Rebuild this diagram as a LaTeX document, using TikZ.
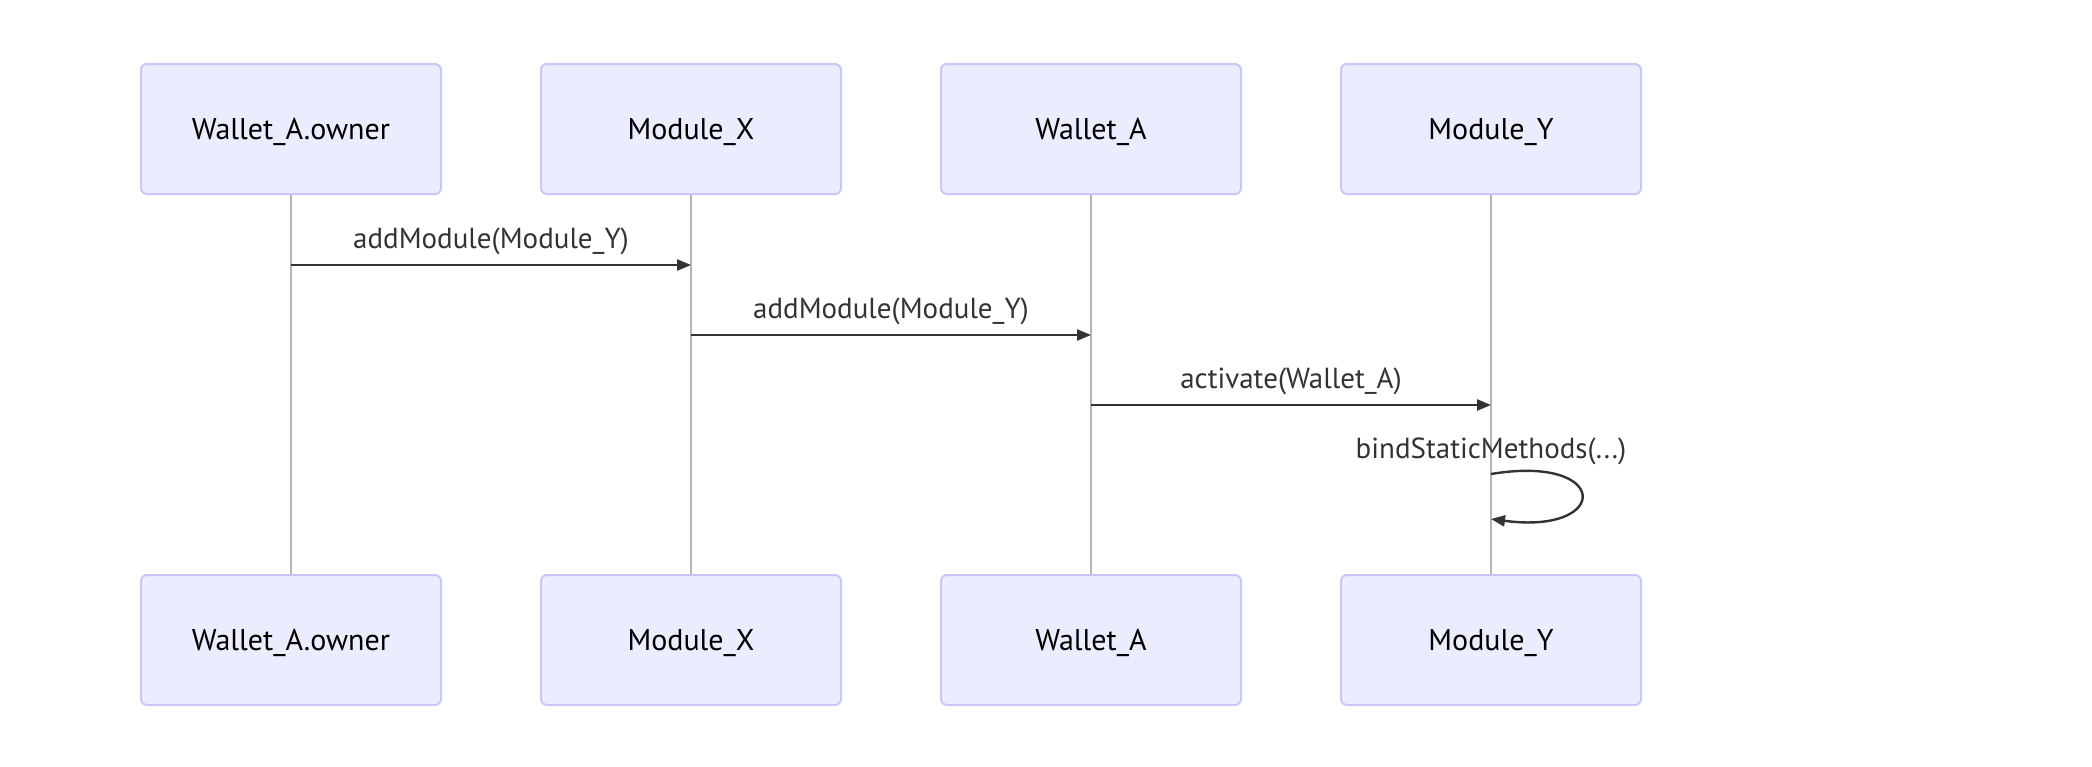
\documentclass[tikz,border=0pt]{standalone}
\usepackage{fontspec}
\setmainfont{PT Sans}
\usetikzlibrary{positioning, arrows.meta, calc}
\definecolor{actorfill}{HTML}{ECECFF}
\definecolor{actorline}{HTML}{C8C8F8}
\definecolor{lifegray}{HTML}{B5B5B5}
\definecolor{msgcol}{HTML}{333333}

\begin{document}
\begin{tikzpicture}[
        node distance=49pt and 49pt,
        >={Triangle[length=7pt, width=5.5pt]},
        % Styles
        actor/.style={rectangle, draw=actorline, fill=actorfill, line width=1pt,
                rounded corners=3pt, minimum width=150pt, minimum height=65pt,
                text depth=0pt, font=\fontsize{15}{18}\selectfont, text=black},
        life/.style={draw=lifegray, line width=0.7pt},
        msg/.style={->, draw=msgcol, line width=1.2pt},
        msglab/.style={font=\fontsize{14.5}{17}\selectfont, text=msgcol, inner sep=2pt},
    ]
        \useasboundingbox (0,0) rectangle (1046pt,-383pt);

        % === ACTORS (Top Row) ===
        \node[actor, anchor=north west] (owner) at (70pt,-31.5pt) {Wallet\_A.owner};
        \node[actor, right=of owner] (modx) {Module\_X};
        \node[actor, right=of modx] (wallet) {Wallet\_A};
        \node[actor, right=of wallet] (mody) {Module\_Y};

        % === ACTORS (Bottom Row) ===
        \node[actor, below=189.5pt of owner] (ownerB) {Wallet\_A.owner};
        \node[actor, below=189.5pt of modx] (modxB) {Module\_X};
        \node[actor, below=189.5pt of wallet] (walletB) {Wallet\_A};
        \node[actor, below=189.5pt of mody] (modyB) {Module\_Y};

        % Lifelines
        \draw[life] (owner) -- (ownerB);
        \draw[life] (modx) -- (modxB);
        \draw[life] (wallet) -- (walletB);
        \draw[life] (mody) -- (modyB);

        % Message rows
        \coordinate[below=35pt of owner.south] (row1);
        \coordinate[below=70pt of modx.south] (row2);
        \coordinate[below=105pt of wallet.south] (row3);
        \coordinate[below=139.5pt of mody.south] (loopA);
        \coordinate[below=162pt of mody.south] (loopB);

        % Messages
        \draw[msg] (row1) -- node[msglab, above=2.5pt] {addModule(Module\_Y)} (row1 -| modx);
        \draw[msg] (row2) -- node[msglab, above=2.5pt] {addModule(Module\_Y)} (row2 -| wallet);
        \draw[msg] (row3) -- node[msglab, above=2.5pt] {activate(Wallet\_A)} (row3 -| mody);

        % Self call
        \node[msglab, above=2.5pt of loopA] (selflab) {bindStaticMethods(...)};
        \draw[msg] (loopA) .. controls +(60pt,10pt) and +(60pt,-8pt) .. (loopB);

    \end{tikzpicture}
\end{document}
